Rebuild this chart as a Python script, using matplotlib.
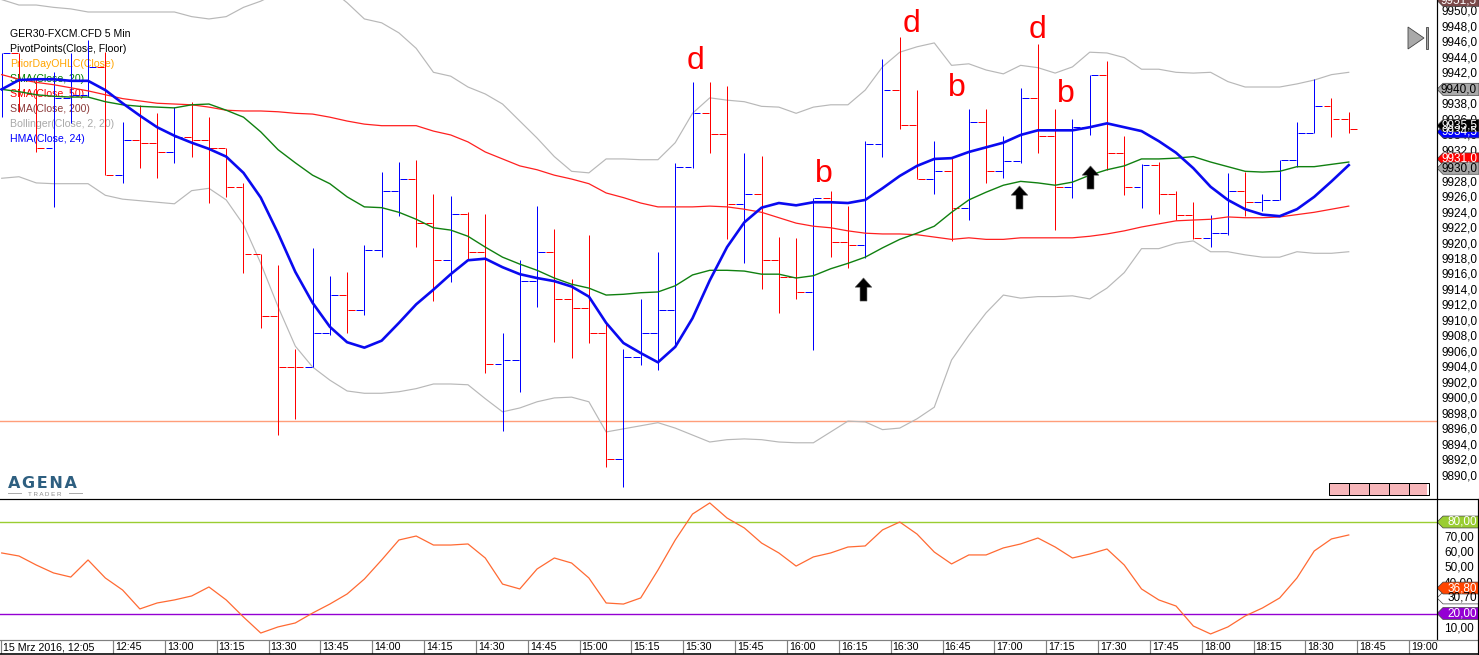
import numpy as np
import matplotlib
matplotlib.use('Agg')
import matplotlib.pyplot as plt
from matplotlib.patches import Polygon, Rectangle
from matplotlib.path import Path

plt.rcParams['font.family'] = ['Liberation Sans', 'DejaVu Sans']

# 5 min bars
high = [9944.7, 9944.7, 9941.3, 9942.2, 9944.7, 9946.4, 9944.8, 9935.8, 9938.0, 9936.9,
        9937.7, 9938.4, 9936.4, 9932.4, 9927.9, 9918.7, 9917.3, 9906.4, 9919.5, 9915.9,
        9916.4, 9919.9, 9929.3, 9930.6, 9930.9, 9926.5, 9926.2, 9924.1, 9923.9, 9908.5,
        9917.9, 9924.9, 9921.9, 9915.5, 9921.2, 9909.9, 9906.4, 9912.9, 9919.0, 9930.5,
        9940.9, 9940.9, 9940.4, 9931.8, 9931.4, 9920.9, 9920.8, 9926.0, 9926.9, 9924.9,
        9933.3, 9943.9, 9946.8, 9939.9, 9933.3, 9931.3, 9937.5, 9937.5, 9934.0, 9940.2,
        9945.9, 9937.5, 9936.2, 9941.9, 9943.7, 9934.0, 9930.3, 9930.6, 9926.9, 9925.4,
        9923.8, 9929.2, 9929.3, 9926.5, 9930.9, 9935.8, 9941.3, 9938.9, 9937.1]
low = [9936.4, 9937.1, 9931.9, 9924.8, 9935.6, 9939.0, 9928.9, 9927.9, 9929.8, 9928.5,
       9930.5, 9931.3, 9925.3, 9926.1, 9916.3, 9909.1, 9895.3, 9897.4, 9904.1, 9908.2,
       9908.5, 9910.8, 9918.3, 9923.6, 9919.6, 9912.6, 9915.1, 9917.9, 9903.3, 9895.8,
       9900.9, 9911.9, 9907.3, 9905.3, 9907.2, 9891.2, 9888.6, 9904.4, 9903.7, 9906.7,
       9929.8, 9931.8, 9920.6, 9917.5, 9914.2, 9911.1, 9912.9, 9906.3, 9918.3, 9916.9,
       9918.2, 9931.3, 9934.9, 9928.4, 9926.5, 9920.4, 9923.1, 9927.9, 9928.5, 9930.5,
       9931.8, 9921.8, 9926.0, 9934.1, 9929.6, 9926.3, 9924.7, 9923.9, 9923.1, 9920.6,
       9919.6, 9921.2, 9923.6, 9924.3, 9925.7, 9930.0, 9934.4, 9933.8, 9934.4]
close = [9944.7, 9941.3, 9932.4, 9938.9, 9939.3, 9942.9, 9928.9, 9933.4, 9933.1, 9931.9,
         9933.8, 9933.4, 9932.4, 9927.4, 9918.7, 9910.7, 9904.1, 9904.1, 9908.5, 9913.4,
         9911.5, 9919.2, 9926.9, 9928.4, 9922.7, 9917.9, 9923.9, 9919.0, 9904.5, 9905.0,
         9915.2, 9919.0, 9912.9, 9911.7, 9908.5, 9892.2, 9905.4, 9908.5, 9911.5, 9930.0,
         9936.9, 9934.2, 9925.2, 9926.5, 9917.9, 9915.7, 9913.8, 9926.0, 9920.3, 9919.9,
         9932.9, 9939.9, 9935.4, 9928.4, 9929.4, 9924.7, 9935.8, 9929.4, 9930.7, 9938.9,
         9934.0, 9927.4, 9935.1, 9941.9, 9931.8, 9927.4, 9930.2, 9926.5, 9923.8, 9920.8,
         9921.4, 9926.9, 9925.4, 9925.7, 9930.9, 9934.4, 9937.8, 9936.2, 9934.9]
first_open = 9940.0

hma24 = [9940.0, 9941.2, 9941.3, 9941.3, 9941.1, 9941.1, 9939.9, 9938.2, 9936.6, 9935.1,
         9934.0, 9933.1, 9932.3, 9931.3, 9929.2, 9926.0, 9921.4, 9916.4, 9912.4, 9909.3,
         9907.3, 9906.6, 9907.5, 9909.8, 9912.2, 9914.1, 9916.1, 9917.9, 9918.1, 9917.0,
         9916.1, 9915.6, 9915.2, 9914.5, 9913.2, 9909.8, 9907.2, 9905.9, 9904.7, 9906.7,
         9910.4, 9915.3, 9919.6, 9922.8, 9924.7, 9925.3, 9925.0, 9925.4, 9925.4, 9925.3,
         9925.7, 9927.2, 9928.8, 9930.1, 9931.0, 9931.1, 9931.9, 9932.5, 9933.1, 9934.1,
         9934.7, 9934.7, 9934.7, 9935.1, 9935.6, 9935.1, 9934.6, 9933.3, 9931.8, 9929.8,
         9927.4, 9925.7, 9924.5, 9923.8, 9923.6, 9924.5, 9926.1, 9928.1, 9930.2]
sma20 = [9940.0, 9939.7, 9939.3, 9939.1, 9939.0, 9939.0, 9938.4, 9938.0, 9937.8, 9937.7,
         9937.6, 9938.0, 9938.1, 9937.3, 9936.4, 9934.5, 9932.2, 9930.5, 9928.9, 9927.8,
         9926.1, 9924.8, 9924.7, 9924.1, 9923.2, 9922.1, 9921.8, 9921.0, 9919.6, 9918.3,
         9917.4, 9916.6, 9915.6, 9914.8, 9914.3, 9913.4, 9913.5, 9913.7, 9913.8, 9914.6,
         9916.0, 9916.6, 9916.6, 9916.5, 9916.1, 9916.1, 9915.6, 9915.9, 9916.8, 9917.5,
         9918.3, 9919.5, 9920.6, 9921.4, 9922.3, 9924.1, 9925.7, 9926.7, 9927.6, 9928.1,
         9927.9, 9927.6, 9928.0, 9928.9, 9929.6, 9930.1, 9931.0, 9931.0, 9931.1, 9931.3,
         9930.6, 9930.0, 9929.4, 9929.3, 9929.4, 9930.0, 9930.0, 9930.3, 9930.6]
sma50 = [9941.9, 9941.3, 9940.9, 9940.6, 9940.2, 9939.8, 9939.3, 9938.8, 9938.5, 9938.2,
         9938.1, 9938.0, 9937.7, 9937.3, 9937.2, 9937.2, 9937.1, 9936.9, 9936.8, 9936.4,
         9935.9, 9935.5, 9935.3, 9935.3, 9935.3, 9934.6, 9934.1, 9933.2, 9931.9, 9931.0,
         9930.1, 9929.6, 9928.9, 9928.4, 9927.8, 9926.6, 9926.0, 9925.3, 9924.8, 9924.8,
         9924.8, 9924.9, 9924.8, 9924.5, 9924.1, 9923.4, 9922.7, 9922.3, 9922.1, 9921.7,
         9921.4, 9921.3, 9921.3, 9921.2, 9920.9, 9920.6, 9920.8, 9920.6, 9920.6, 9920.8,
         9920.8, 9920.8, 9920.8, 9921.0, 9921.3, 9921.7, 9922.2, 9922.6, 9923.0, 9923.1,
         9923.2, 9923.5, 9923.4, 9923.4, 9923.5, 9923.8, 9924.1, 9924.5, 9924.9]
boll_upper = [9951.6, 9950.9, 9950.9, 9950.6, 9950.4, 9950.0, 9950.0, 9950.0, 9950.0, 9950.0,
              9950.0, 9949.4, 9949.1, 9949.4, 9950.6, 9951.4, 9952.5, 9953.5, 9954.0, 9953.0,
              9951.2, 9949.1, 9948.6, 9947.3, 9945.3, 9942.2, 9941.7, 9940.3, 9939.4, 9938.1,
              9935.9, 9933.7, 9931.3, 9929.4, 9929.2, 9931.0, 9931.0, 9930.9, 9930.9, 9933.1,
              9936.9, 9938.9, 9938.6, 9938.4, 9937.8, 9937.7, 9936.9, 9937.7, 9938.0, 9938.0,
              9939.9, 9942.9, 9944.8, 9945.5, 9946.0, 9943.1, 9943.3, 9942.5, 9942.0, 9943.1,
              9942.8, 9942.1, 9942.9, 9944.8, 9944.7, 9944.1, 9942.6, 9942.6, 9942.2, 9942.1,
              9942.2, 9941.0, 9940.3, 9940.3, 9940.3, 9940.7, 9941.2, 9941.9, 9942.2]
boll_lower = [9928.5, 9928.7, 9927.9, 9927.8, 9927.8, 9927.8, 9926.3, 9925.8, 9925.6, 9925.4,
              9925.2, 9926.9, 9927.2, 9925.7, 9922.5, 9917.5, 9911.9, 9906.8, 9904.1, 9902.4,
              9901.0, 9900.7, 9900.7, 9900.9, 9901.3, 9901.9, 9901.9, 9901.8, 9900.0, 9898.3,
              9898.8, 9899.6, 9900.1, 9900.2, 9899.6, 9895.7, 9896.1, 9896.5, 9896.9, 9896.2,
              9895.3, 9894.4, 9894.7, 9894.8, 9894.7, 9894.4, 9894.3, 9894.3, 9895.7, 9897.1,
              9897.0, 9896.0, 9896.2, 9897.4, 9898.9, 9905.0, 9908.2, 9911.1, 9913.4, 9913.0,
              9913.2, 9913.2, 9913.3, 9912.9, 9914.3, 9916.3, 9919.4, 9919.4, 9920.1, 9920.4,
              9919.0, 9919.0, 9918.6, 9918.3, 9918.3, 9919.0, 9918.8, 9918.8, 9919.0]
prior_level = 9897.1

stoch = [59.7, 57.7, 51.8, 46.6, 43.9, 55.1, 43.3, 35.4, 23.0, 26.9,
         28.9, 31.5, 37.4, 28.9, 17.7, 7.2, 11.2, 13.8, 20.3, 26.2,
         32.8, 42.6, 55.1, 68.2, 70.8, 64.9, 64.9, 65.6, 56.4, 39.3,
         36.1, 49.2, 56.4, 53.1, 43.3, 26.9, 26.2, 30.2, 48.5, 68.2,
         85.2, 92.5, 82.6, 76.1, 66.2, 59.7, 51.1, 57.1, 59.7, 63.6,
         64.3, 74.8, 80.0, 72.1, 60.3, 52.5, 58.4, 58.4, 63.0, 65.6,
         69.5, 63.6, 56.4, 59.0, 62.3, 51.8, 36.1, 28.9, 24.9, 11.8,
         6.6, 11.2, 18.4, 23.6, 30.2, 43.3, 61.0, 68.9, 71.5]
stoch_upper = 80
stoch_lower = 20

price_ticks = list(range(9890, 9952, 2))
stoch_ticks = [70, 60, 50, 40, 30, 10]
time_labels = ['12:45', '13:00', '13:15', '13:30', '13:45', '14:00', '14:15', '14:30', '14:45',
               '15:00', '15:15', '15:30', '15:45', '16:00', '16:15', '16:30', '16:45', '17:00',
               '17:15', '17:30', '17:45', '18:00', '18:15', '18:30', '18:45', '19:00']
first_label = '15 Mrz 2016, 12:05'

legend_lines = [('GER30-FXCM.CFD 5 Min', 'black'), ('PivotPoints(Close, Floor)', 'black'),
                ('PriorDayOHLC(Close)', 'orange'), ('SMA(Close, 20)', 'green'),
                ('SMA(Close, 50)', 'red'), ('SMA(Close, 200)', '#8b3a3a'),
                ('Bollinger(Close, 2, 20)', '#a9a9a9'), ('HMA(Close, 24)', 'blue')]

# wave labels: letter, bar position, price of the baseline
wave_labels = [('d', 40.2, 9942.6), ('d', 52.7, 9947.4), ('d', 59.95, 9946.6),
               ('b', 47.6, 9928.0), ('b', 55.3, 9939.1), ('b', 61.6, 9938.4)]
arrow_x = [49.9, 58.9, 63.0]
arrow_y = [9914.2, 9926.1, 9928.7]

# tags on the scale: text, level, fill, text colour
price_tags = [('9951,5', 9951.5, '#7b4a4a', 'white'), ('9940,0', 9940.0, '#a9a9a9', 'black'),
              ('9934,5', 9934.5, '#0000ff', 'white'), ('9935,5', 9935.3, '#000000', 'white'),
              ('9931,0', 9931.0, '#ff0000', 'white'), ('9930,0', 9929.8, '#a9a9a9', 'black')]
stoch_tags = [('80,00', 80.0, '#9acd32', 'white'), ('30,70', 30.2, '#ffffff', 'black'),
              ('36,80', 36.7, '#ff4500', 'white'), ('20,00', 20.0, '#9400d3', 'white')]

W, H = 1479, 655
px = 0.72  # one pixel in points at dpi 100
SPLIT, BOTTOM, SCALE = 499, 640, 1437
FS = 7.7
SCALE_FS = 8.5

# bar position of pixel 0 and of the right edge of the panes
x0 = -1.7 / 17.27
x1 = (SCALE - 1.7) / 17.27
price_lim = (9887.03, 9951.55)
stoch_lim = (2.63, 95.08)

fig = plt.figure(figsize=(W / 100, H / 100), dpi=100, facecolor='white')


def pane(left, top, right, bottom):
    a = fig.add_axes([left / W, 1 - bottom / H, (right - left) / W, (bottom - top) / H])
    a.set_xticks([])
    a.set_yticks([])
    for s in a.spines.values():
        s.set_visible(False)
    a.patch.set_alpha(0)
    return a


ax = pane(0, 0, SCALE, SPLIT)
ax.set_xlim(x0, x1)
ax.set_ylim(*price_lim)
ax2 = pane(0, SPLIT, SCALE, BOTTOM)
ax2.set_xlim(x0, x1)
ax2.set_ylim(*stoch_lim)
ax_time = pane(0, BOTTOM, SCALE, 654)
ax_time.set_xlim(x0, x1)
ax_time.set_ylim(0, 1)
scale1 = pane(SCALE, 0, W, SPLIT)
scale1.set_xlim(SCALE, W)
scale1.set_ylim(*price_lim)
scale2 = pane(SCALE, SPLIT, W, BOTTOM)
scale2.set_xlim(SCALE, W)
scale2.set_ylim(*stoch_lim)
frame = pane(0, 0, W, H)
frame.set_xlim(0, W)
frame.set_ylim(H, 0)

# price pane
n = np.arange(len(close))
opens = [first_open] + close[:-1]
bar_colors = ['#0000ff' if c > o else '#ff0000' for o, c in zip(opens, close)]

for y, (txt, col) in zip(range(34, 154, 15), legend_lines):
    ax.text(10 / 17.27 + x0, price_lim[1] - y * 0.1293, txt, color=col, fontsize=7.6, va='center', zorder=1)

ax.axhline(prior_level, color='#ff9e7a', lw=1.0, zorder=2)
ax.plot(n, boll_upper, color='#b8b8b8', lw=0.85, zorder=3)
ax.plot(n, boll_lower, color='#b8b8b8', lw=0.85, zorder=3)
# snapped one pixel lines keep the bar colours pure
for coll in (ax.vlines(n, low, high, colors=bar_colors, lw=px, zorder=4),
             ax.hlines(opens, n - 0.46, n - 0.06, colors=bar_colors, lw=px, zorder=4),
             ax.hlines(close, n + 0.06, n + 0.46, colors=bar_colors, lw=px, zorder=4)):
    coll.set_snap(True)
ax.plot(n, sma50, color='#ff2020', lw=0.9, zorder=5)
ax.plot(n, sma20, color='#108010', lw=1.0, zorder=5)
ax.plot(n, hma24, color='#0a0af0', lw=1.9, zorder=6)

for letter, lx, ly in wave_labels:
    ax.text(lx, ly, letter, color='red', fontsize=23, ha='center', va='baseline', zorder=7)

arrow = Path([(-0.3, -1), (0.3, -1), (0.3, 0.2), (0.72, 0.2), (0, 1), (-0.72, 0.2), (-0.3, 0.2), (-0.3, -1)])
ax.plot(arrow_x, arrow_y, ls='none', marker=arrow, ms=16.6, color='black', mec='#555555', mew=0.4, zorder=7)

# oscillator pane
ax2.axhline(stoch_upper, color='#9acd32', lw=1.0)
ax2.axhline(stoch_lower, color='#9400d3', lw=1.0)
ax2.plot(n, stoch, color='#ff6a33', lw=0.9)

# right hand scales
for v in price_ticks:
    scale1.text(1441, v, f'{v},0', fontsize=SCALE_FS, va='center', color='black', zorder=1)
for v in stoch_ticks:
    scale2.text(1444, v, f'{v},00', fontsize=SCALE_FS, va='center', color='black', zorder=1)


def tag(a, text, level, fill, tcol, half):
    pts = [(SCALE, level), (SCALE + 6, level + half), (W, level + half), (W, level - half), (SCALE + 6, level - half)]
    a.add_patch(Polygon(pts, closed=True, facecolor=fill, edgecolor='#444444', lw=0.5, zorder=2, clip_on=True))
    a.text(W - 2, level, text, fontsize=SCALE_FS, color=tcol, ha='right', va='center', zorder=3, clip_on=True)


for t in price_tags:
    tag(scale1, *t, 0.78)
for t in stoch_tags:
    tag(scale2, *t, 3.9)

# time axis
tick0 = (113 - 1.7) / 17.27
ax_time.text(x0 + 3 / 17.27, 0.47, first_label, fontsize=FS, va='center')
ax_time.vlines(x0 + 1 / 17.27, 0, 1, color='#808080', lw=px * 1.2)
for k, lab in enumerate(time_labels):
    tx = tick0 + 3.002 * k
    ax_time.vlines(tx, 0, 1, color='#808080', lw=px * 1.2)
    ax_time.text(tx + 2 / 17.27, 0.47, lab, fontsize=FS, va='center', clip_on=False)

# frame lines
frame.plot([0, W], [SPLIT, SPLIT], color='black', lw=px * 1.2)
frame.plot([SCALE, SCALE], [0, BOTTOM], color='black', lw=px * 1.2)
frame.plot([0, W], [BOTTOM, BOTTOM], color='#808080', lw=px * 1.2)
frame.plot([0, W], [654, 654], color='black', lw=px * 1.6)
frame.plot([W - 1, W - 1], [SPLIT, 654], color='black', lw=px * 1.2)

# logo
frame.text(8, 488.5, 'A\u200aG\u200aE\u200aN\u200aA', fontsize=11.5, fontweight='bold', family='DejaVu Sans', color='#2e5f80', va='baseline')
frame.text(45, 494, 'T R A D E R', fontsize=4.5, color='#8a8a8a', ha='center', va='center')
frame.plot([8, 21], [493, 493], color='#aaaaaa', lw=0.7)
frame.plot([69, 82], [493, 493], color='#aaaaaa', lw=0.7)

# pink box bottom right
for k in range(5):
    frame.add_patch(Rectangle((1329 + 20 * k, 483), 20, 12, facecolor='#f7b6ba', edgecolor='black', lw=px))
frame.add_patch(Rectangle((1426.5, 484), 2.5, 10.5, facecolor='white', edgecolor='none'))

# play/pause symbol top right
frame.add_patch(Polygon([(1408, 27), (1408, 49), (1424, 38)], closed=True, facecolor='#a9a9a9', edgecolor='#444444', lw=0.6))
frame.add_patch(Rectangle((1426, 27), 2, 22, facecolor='#a9a9a9', edgecolor='#444444', lw=0.6))

fig.savefig('out.png', dpi=100)
